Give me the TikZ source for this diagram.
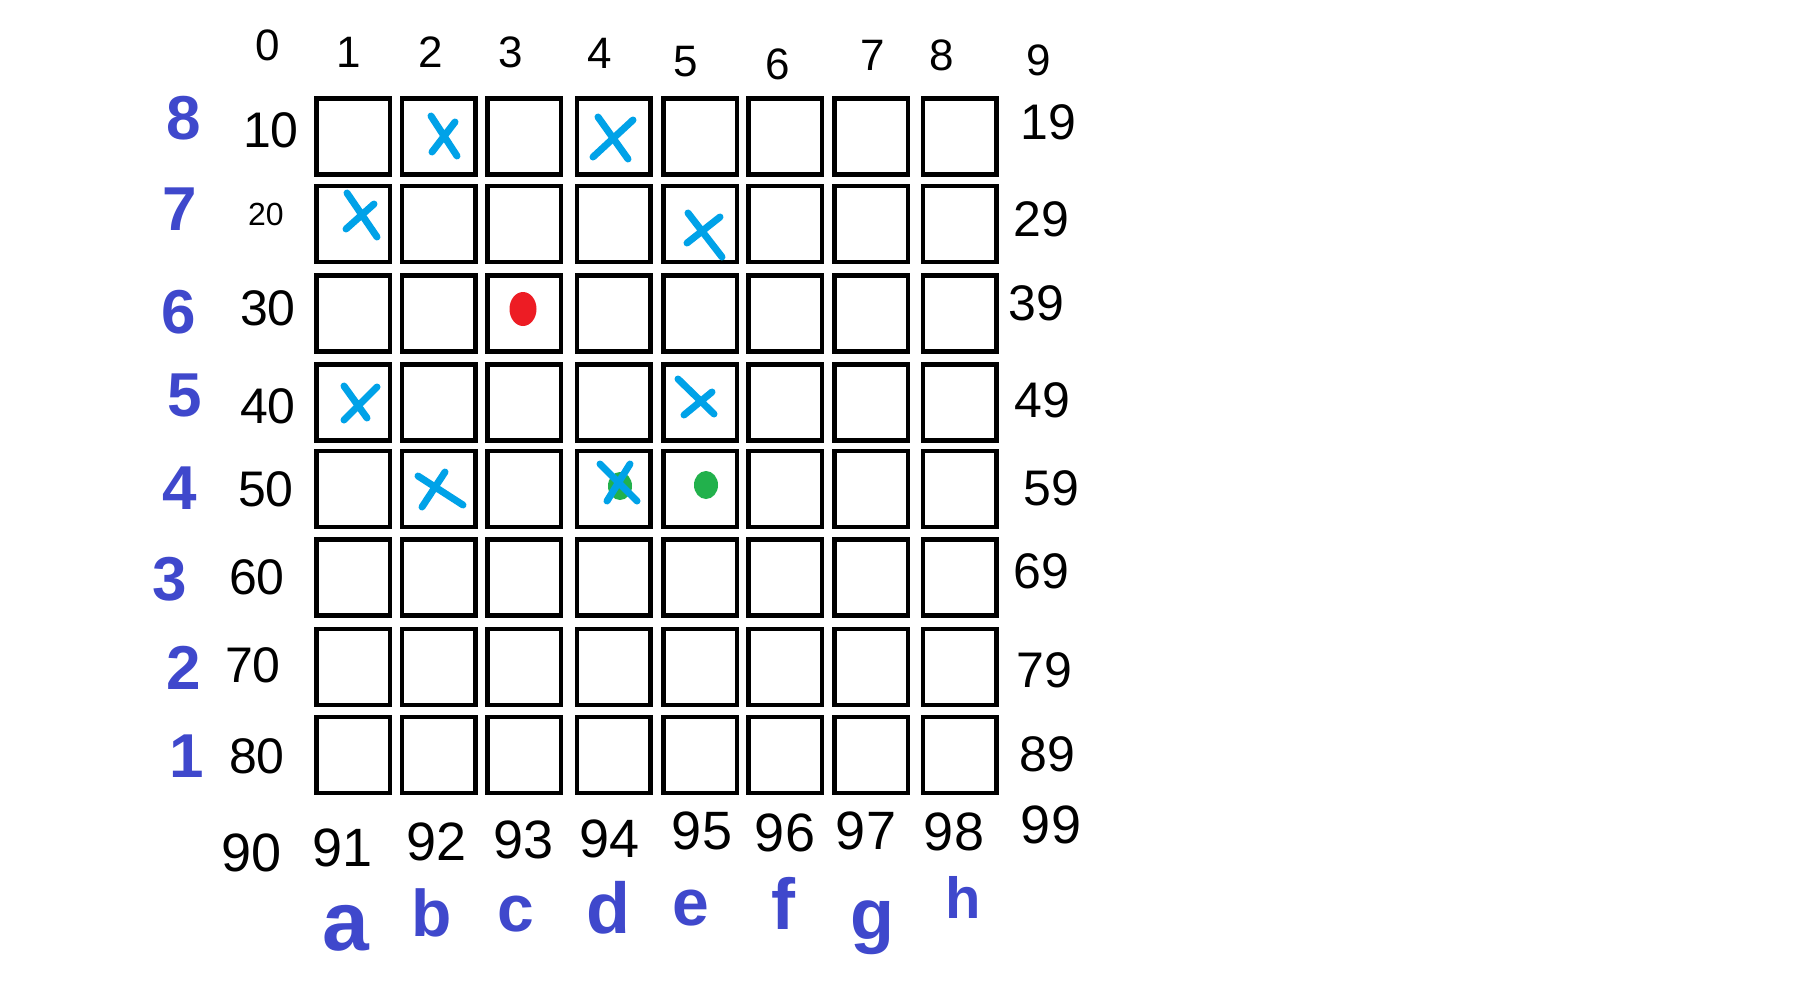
\documentclass[tikz,border=0pt]{standalone}
\usepackage{fontspec}
\setmainfont{Liberation Sans}
\definecolor{inkblue}{RGB}{63,72,204}
\definecolor{xcyan}{RGB}{0,162,232}
\definecolor{dotred}{RGB}{237,28,36}
\definecolor{dotgreen}{RGB}{34,177,76}
\tikzset{
  cellbox/.style={draw=black, line width=4.5pt, minimum width=73.5pt, minimum height=76pt, inner sep=0pt, outer sep=0pt},
  numlab/.style={inner sep=0pt, text=black, font=\fontsize{50}{50}\selectfont},
  toplab/.style={inner sep=0pt, text=black, font=\fontsize{44}{44}\selectfont},
  botlab/.style={inner sep=0pt, text=black, font=\fontsize{54}{54}\selectfont},
  ranklab/.style={inner sep=0pt, text=inkblue, font=\bfseries\fontsize{62}{62}\selectfont},
  filelab/.style={inner sep=0pt, text=inkblue, font=\bfseries\fontsize{66}{66}\selectfont},
  xmark/.style={draw=xcyan, line width=7pt, line cap=round},
}
\begin{document}
\begin{tikzpicture}[x=1pt, y=-1pt]
\useasboundingbox (0,0) rectangle (1804,1004);
\fill[white] (0,0) rectangle (1804,1004);

% grid of cells
\foreach \cy [count=\r] in {136.5,224,313.5,402.5,489,577.5,667,755} {
  \foreach \cx [count=\c] in {353,438.5,524,613.5,700,785,871,959.5} {
    \node[cellbox] (cell-\r-\c) at (\cx,\cy) {};
  }
}

% top labels
\node[toplab] (t0) at (268,45) {0};
\node[toplab] (t1) at (349,52) {1};
\node[toplab] (t2) at (431,52) {2};
\node[toplab] (t3) at (511,52) {3};
\node[toplab] (t4) at (600,53) {4};
\node[toplab] (t5) at (686,62) {5};
\node[toplab] (t6) at (778,64) {6};
\node[toplab] (t7) at (873,55) {7};
\node[toplab] (t8) at (942,55) {8};
\node[toplab] (t9) at (1039,60) {9};

% left black labels
\node[numlab] (l10) at (271,130) {10};
\node[numlab, font=\fontsize{32}{32}\selectfont] (l20) at (266,214) {20};
\node[numlab] (l30) at (268,308) {30};
\node[numlab] (l40) at (268,406) {40};
\node[numlab] (l50) at (266,489) {50};
\node[numlab] (l60) at (257,577) {60};
\node[numlab] (l70) at (253,665) {70};
\node[numlab] (l80) at (257,756) {80};

% right black labels
\node[numlab] (r19) at (1048,122) {19};
\node[numlab] (r29) at (1041,219) {29};
\node[numlab] (r39) at (1036,303) {39};
\node[numlab] (r49) at (1042,400) {49};
\node[numlab] (r59) at (1051,488) {59};
\node[numlab] (r69) at (1041,571) {69};
\node[numlab] (r79) at (1044,670) {79};
\node[numlab] (r89) at (1047,754) {89};

% bottom black labels
\node[botlab] (b90) at (252,853) {90};
\node[botlab] (b91) at (343,848) {91};
\node[botlab] (b92) at (437,842) {92};
\node[botlab] (b93) at (524,840) {93};
\node[botlab] (b94) at (610,839) {94};
\node[botlab] (b95) at (702,831) {95};
\node[botlab] (b96) at (785,833) {96};
\node[botlab] (b97) at (866,831) {97};
\node[botlab] (b98) at (954,832) {98};
\node[botlab] (b99) at (1051,825) {99};

% blue rank labels
\node[ranklab] (k8) at (184,118) {8};
\node[ranklab] (k7) at (180,209) {7};
\node[ranklab] (k6) at (179,312) {6};
\node[ranklab] (k5) at (185,395) {5};
\node[ranklab] (k4) at (180,488) {4};
\node[ranklab] (k3) at (170,579) {3};
\node[ranklab] (k2) at (184,668) {2};
\node[ranklab] (k1) at (187,756) {1};

% blue file labels
\node[filelab, font=\bfseries\fontsize{84}{84}\selectfont] (fa) at (346,928) {a};
\node[filelab] (fb) at (432,913) {b};
\node[filelab] (fc) at (516,914) {c};
\node[filelab, font=\bfseries\fontsize{72}{72}\selectfont] (fd) at (608,908) {d};
\node[filelab] (fe) at (691,908) {e};
\node[filelab, font=\bfseries\fontsize{72}{72}\selectfont] (ff) at (783,903) {f};
\node[filelab, font=\bfseries\fontsize{72}{72}\selectfont] (fg) at (872,928) {g};
\node[filelab, font=\bfseries\fontsize{58}{58}\selectfont] (fh) at (963,897) {h};

% dots
\fill[dotred] (523,309) ellipse [x radius=13.5, y radius=17];
\fill[dotgreen] (706,485) ellipse [x radius=12, y radius=14];
\fill[dotgreen] (620,486) ellipse [x radius=12, y radius=14];

% cyan crosses
\draw[xmark] (431,116) -- (457,156) (455,122) -- (432,152);
\draw[xmark] (598,117) -- (628,159) (633,120) -- (593,157);
\draw[xmark] (347,193) -- (377,237) (374,204) -- (346,229);
\draw[xmark] (688,213) -- (722,257) (720,217) -- (687,243);
\draw[xmark] (344,386) -- (367,418) (377,387) -- (344,420);
\draw[xmark] (678,379) -- (714,414) (712,392) -- (684,415);
\draw[xmark] (418,476) -- (463,505) (445,472) -- (422,507);
\draw[xmark] (600,464) -- (637,501) (630,464) -- (607,501);
\end{tikzpicture}
\end{document}
